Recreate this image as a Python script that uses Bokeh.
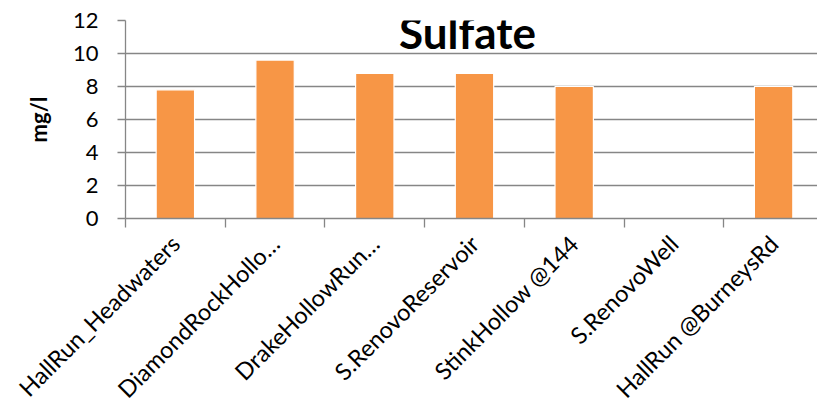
import math
from bokeh.plotting import figure
from bokeh.models import FixedTicker, Label, Range1d, ColumnDataSource
from bokeh.embed import file_html
from bokeh.resources import INLINE

categories = ["HallRun_Headwaters", "DiamondRockHollo\u2026", "DrakeHollowRun\u2026",
              "S.RenovoReservoir", "StinkHollow @144", "S.RenovoWell", "HallRun @BurneysRd"]
sulfate = [7.8, 9.6, 8.8, 8.8, 8.0, float("nan"), 8.0]
y_ticks = [0, 2, 4, 6, 8, 10, 12]

centers = [i + 0.5 for i in range(len(categories))]
bounds = list(range(len(categories) + 1))

FONT = "Lato"
GRID = "#868686"

p = figure(width=817, height=417, output_backend="svg", toolbar_location=None,
           x_range=Range1d(0, 6.94), y_range=Range1d(0, 12),
           min_border_left=125, min_border_right=0, min_border_top=20, min_border_bottom=199)
p.outline_line_color = None
p.background_fill_color = "white"
p.border_fill_color = "white"

src = ColumnDataSource(dict(x=centers, top=sulfate))
p.vbar(x="x", top="top", width=0.385, source=src, fill_color="#F79646",
       line_color="white", line_width=1.2)

# x axis
xa = p.xaxis[0]
xa.ticker = FixedTicker(ticks=centers, minor_ticks=bounds)
xa.major_label_overrides = {c: n for c, n in zip(centers, categories)}
xa.major_label_orientation = math.pi / 4
xa.major_tick_out = 0
xa.major_tick_in = 0
xa.minor_tick_out = 9
xa.minor_tick_in = 0
xa.minor_tick_line_color = GRID
xa.minor_tick_line_width = 1.3
xa.axis_line_color = GRID
xa.axis_line_width = 1.3
xa.major_label_text_font = FONT
xa.major_label_text_font_size = "23.5px"
xa.major_label_text_color = "black"
xa.major_label_standoff = 12

# y axis
ya = p.yaxis[0]
ya.ticker = FixedTicker(ticks=y_ticks)
ya.minor_tick_line_color = None
ya.major_tick_out = 8
ya.major_tick_in = 0
ya.major_tick_line_color = GRID
ya.major_tick_line_width = 1.3
ya.axis_line_color = GRID
ya.axis_line_width = 1.3
ya.major_label_text_font = FONT
ya.major_label_text_font_size = "22px"
ya.major_label_text_color = "black"
ya.major_label_standoff = 19
ya.axis_label = "mg/l"
ya.axis_label_text_font = FONT
ya.axis_label_text_font_style = "bold"
ya.axis_label_text_font_size = "22px"
ya.axis_label_text_color = "black"
ya.axis_label_standoff = 18

p.xgrid.grid_line_color = None
p.ygrid.grid_line_color = GRID
p.ygrid.grid_line_width = 1.3
p.ygrid.ticker = FixedTicker(ticks=y_ticks)

title = Label(x=3.43, y=11.3, text="Sulfate", text_align="center", text_baseline="alphabetic",
              text_font=FONT, text_font_style="bold", text_font_size="44px", text_color="black")
p.add_layout(title)

open("out.html", "w").write(file_html(p, INLINE))
